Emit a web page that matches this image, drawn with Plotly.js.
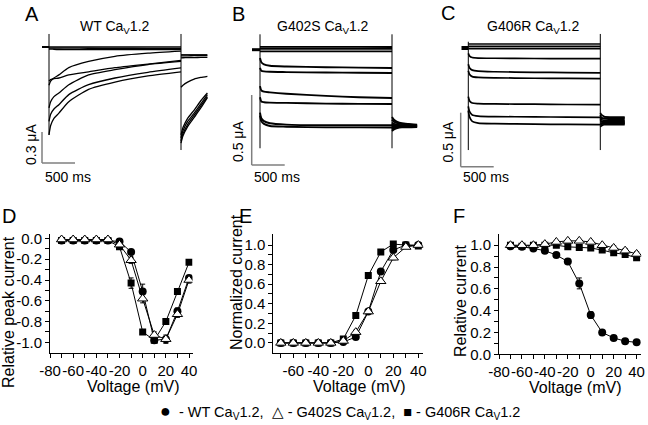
<!DOCTYPE html>
<html><head><meta charset="utf-8">
<script src="https://cdn.plot.ly/plotly-3.0.1.min.js"></script>
<style>html,body{margin:0;padding:0;background:#fff}#chart{width:648px;height:425px}</style>
</head><body><div id="chart"></div>
<script>
// ================= DATA =================
// Bottom panels: test voltages (mV)
const voltages = [-70,-60,-50,-40,-30,-20,-10,0,10,20,30,40];
const seriesNames = ['WT Ca<sub>V</sub>1.2','G402S Ca<sub>V</sub>1.2','G406R Ca<sub>V</sub>1.2'];
// D: relative peak current
const ivWT    = [-0.02,-0.02,-0.02,-0.02,-0.02,-0.03,-0.13,-0.51,-0.98,-0.97,-0.70,-0.38];
const ivG402S = [-0.01,-0.01,-0.01,-0.01,-0.01,-0.06,-0.21,-0.58,-0.93,-0.97,-0.73,-0.40];
const ivG406R = [-0.02,-0.02,-0.02,-0.02,-0.02,-0.08,-0.43,-0.90,-0.98,-0.80,-0.51,-0.23];
const ivWTErr    = [0.01,0.01,0.01,0.01,0.01,0.01,0.02,0.07,0.02,0.02,0.03,0.02];
const ivG402SErr = [0.01,0.01,0.01,0.01,0.01,0.02,0.03,0.04,0.03,0.04,0.03,0.03];
const ivG406RErr = [0.01,0.01,0.01,0.01,0.01,0.01,0.05,0.02,0.02,0.02,0.02,0.02];
// E: normalized current (activation)
const actWT    = [0,0,0,0,0,0.01,0.06,0.32,0.73,0.95,1.00,1.00];
const actG402S = [0,0,0,0,0,0.02,0.11,0.32,0.63,0.87,0.98,1.00];
const actG406R = [0,0,0,0,0,0.04,0.28,0.69,0.93,1.01,1.00,0.99];
const actErr   = [0.005,0.005,0.005,0.005,0.005,0.01,0.02,0.02,0.02,0.02,0.01,0.01];
// F: relative current (inactivation)
const inactWT    = [0.99,0.985,0.97,0.95,0.91,0.85,0.65,0.36,0.20,0.15,0.12,0.11];
const inactG402S = [1.00,1.00,1.00,1.01,1.03,1.04,1.04,1.03,1.00,0.975,0.95,0.92];
const inactG406R = [1.00,0.99,1.00,1.00,1.00,0.985,0.98,0.975,0.955,0.93,0.915,0.885];
const inactWTErr    = [0.01,0.01,0.01,0.01,0.01,0.01,0.05,0.03,0.01,0.01,0.01,0.01];
const inactG402SErr = [0.01,0.01,0.01,0.01,0.01,0.01,0.01,0.01,0.01,0.02,0.02,0.02];
const inactG406RErr = [0.01,0.01,0.01,0.01,0.01,0.01,0.01,0.01,0.01,0.01,0.01,0.01];

// Tick labels (major, labelled) and minor tick positions
const xTicksDF = [-80,-60,-40,-20,0,20,40];
const xTextDF  = ['-80','-60','-40','-20','0','20','40'];
const xMinorDF = [-70,-50,-30,-10,10,30];
const xTicksE  = [-60,-40,-20,0,20,40];
const xTextE   = ['-60','-40','-20','0','20','40'];
const xMinorE  = [-70,-50,-30,-10,10,30];
const yTicksD  = [0,-0.2,-0.4,-0.6,-0.8,-1.0];
const yTextD   = ['0.0','-0.2','-0.4','-0.6','-0.8','-1.0'];
const yMinorD  = [-0.1,-0.3,-0.5,-0.7,-0.9];
const yTicksEF = [0,0.2,0.4,0.6,0.8,1.0];
const yTextEF  = ['0.0','0.2','0.4','0.6','0.8','1.0'];
const yMinorEF = [0.1,0.3,0.5,0.7,0.9];

// Top panels: current traces (uA) vs time (ms)
const holdStartA = -106, holdStartB = -121, holdStartC = -103;
const tPulseA = [0,25,75,150,300,600,1000,1500,2000];
const sweepsA = [
  [0,0,0,0,0,0,0,0,0],
  [-0.01,-0.01,-0.01,-0.01,-0.01,-0.012,-0.014,-0.015,-0.016],
  [-0.02,-0.02,-0.022,-0.024,-0.025,-0.026,-0.026,-0.026,-0.026],
  [-0.37,-0.33,-0.30,-0.27,-0.20,-0.14,-0.09,-0.06,-0.04],
  [-0.33,-0.315,-0.305,-0.30,-0.27,-0.24,-0.20,-0.165,-0.13],
  [-0.59,-0.53,-0.48,-0.445,-0.365,-0.27,-0.22,-0.17,-0.14],
  [-0.72,-0.65,-0.60,-0.558,-0.461,-0.365,-0.30,-0.245,-0.203],
  [-0.85,-0.76,-0.69,-0.64,-0.53,-0.41,-0.34,-0.28,-0.24]
];
const tTailA = [2000,2030,2100,2200,2300,2400];
const tailsA = [
  [-0.075,-0.075,-0.075,-0.075,-0.075,-0.075],
  [-0.085,-0.085,-0.085,-0.084,-0.083,-0.083],
  [-0.105,-0.104,-0.103,-0.102,-0.101,-0.10],
  [-0.39,-0.37,-0.34,-0.31,-0.295,-0.284],
  [-0.85,-0.78,-0.69,-0.61,-0.52,-0.445],
  [-0.88,-0.81,-0.72,-0.64,-0.55,-0.46],
  [-0.91,-0.84,-0.75,-0.66,-0.57,-0.48],
  [-0.93,-0.86,-0.77,-0.68,-0.59,-0.49]
];
const transOnA = [0.126,-0.852], transOffA = [0.126,-0.997];

const tPulseB = [0,20,60,150,400,1000,1500,2000];
const sweepsB = [
  [0.02,0.02,0.02,0.02,0.02,0.02,0.02,0.019],
  [0.007,0.007,0.007,0.007,0.007,0.007,0.007,0.007],
  [-0.012,-0.012,-0.012,-0.012,-0.012,-0.012,-0.012,-0.012],
  [-0.06,-0.09,-0.105,-0.115,-0.12,-0.125,-0.128,-0.131],
  [-0.13,-0.15,-0.155,-0.158,-0.16,-0.163,-0.165,-0.166],
  [-0.26,-0.29,-0.30,-0.305,-0.315,-0.33,-0.34,-0.345],
  [-0.34,-0.37,-0.375,-0.378,-0.38,-0.385,-0.387,-0.388],
  [-0.45,-0.49,-0.51,-0.525,-0.535,-0.54,-0.54,-0.54],
  [-0.47,-0.51,-0.53,-0.545,-0.55,-0.555,-0.555,-0.556]
];
const tTailB = [2000,2030,2080,2150,2250,2380];
const tailsB = [
  [-0.48,-0.50,-0.515,-0.525,-0.53,-0.535],
  [-0.50,-0.515,-0.525,-0.53,-0.535,-0.54],
  [-0.52,-0.53,-0.535,-0.54,-0.54,-0.545],
  [-0.54,-0.545,-0.545,-0.545,-0.545,-0.545],
  [-0.56,-0.555,-0.55,-0.55,-0.55,-0.55],
  [-0.58,-0.57,-0.56,-0.555,-0.555,-0.553],
  [-0.53,-0.54,-0.54,-0.54,-0.54,-0.54],
  [-0.57,-0.56,-0.555,-0.55,-0.548,-0.548],
  [-0.55,-0.55,-0.55,-0.55,-0.55,-0.55]
];
const transOnB = [0.110,-0.704], transOffB = [0.110,-0.704];

const tPulseC = [0,20,60,150,400,1000,1500,2000];
const sweepsC = [
  [0.037,0.037,0.037,0.037,0.037,0.037,0.037,0.037],
  [0.015,0.015,0.015,0.015,0.015,0.015,0.015,0.015],
  [-0.005,-0.005,-0.005,-0.005,-0.005,-0.005,-0.005,-0.005],
  [-0.05,-0.075,-0.088,-0.093,-0.095,-0.097,-0.098,-0.099],
  [-0.15,-0.185,-0.205,-0.215,-0.22,-0.225,-0.228,-0.231],
  [-0.21,-0.245,-0.265,-0.272,-0.276,-0.28,-0.282,-0.284],
  [-0.45,-0.49,-0.51,-0.515,-0.518,-0.52,-0.523,-0.525],
  [-0.54,-0.59,-0.62,-0.63,-0.635,-0.638,-0.64,-0.642],
  [-0.58,-0.64,-0.68,-0.695,-0.70,-0.705,-0.708,-0.71]
];
const tTailC = [2000,2020,2060,2150,2250,2370];
const tailsC = [
  [-0.60,-0.62,-0.635,-0.64,-0.64,-0.64],
  [-0.62,-0.645,-0.655,-0.66,-0.66,-0.66],
  [-0.65,-0.665,-0.67,-0.675,-0.675,-0.675],
  [-0.68,-0.685,-0.69,-0.69,-0.69,-0.69],
  [-0.71,-0.705,-0.70,-0.70,-0.70,-0.70],
  [-0.73,-0.72,-0.71,-0.71,-0.71,-0.71],
  [-0.66,-0.68,-0.68,-0.68,-0.68,-0.68],
  [-0.70,-0.695,-0.695,-0.695,-0.695,-0.695],
  [-0.64,-0.65,-0.65,-0.65,-0.65,-0.65]
];
const transOnC = [0.058,-0.945], transOffC = [0.130,-0.945];

// scale bars
const scaleMs = 500;
const scaleA_uA = 0.3, scaleB_uA = 0.5, scaleC_uA = 0.5;

// ================= LAYOUT HELPERS =================
const W = 648, H = 425;
const FONT = 'Liberation Sans, Arial, Helvetica, sans-serif';
const fx = p => p / W, fy = p => 1 - p / H;

const geo = {
  A: {box:[38,212,28,170], onset:49,    base:47,   ms:500/33, uA:0.3/31},
  B: {box:[245,420,28,170], onset:260,  base:49.7, ms:500/33, uA:0.5/70},
  C: {box:[455,630,28,170], onset:468.3,base:48,   ms:500/33, uA:0.5/54}
};
function topAxes(g) {
  const [x1,x2,yt,yb] = g.box;
  return {
    x: {domain:[fx(x1), fx(x2)], range:[(x1-g.onset)*g.ms, (x2-g.onset)*g.ms], visible:false, fixedrange:true},
    y: {domain:[fy(yb), fy(yt)], range:[-(yb-g.base)*g.uA, (g.base-yt)*g.uA], visible:false, fixedrange:true}
  };
}
const toT = (g,px) => (px - g.onset) * g.ms;
const toI = (g,py) => -(py - g.base) * g.uA;

const traces = [];
function addTop(n, holdStart, tP, sweeps, tT, tails, tOn, tOff, width, holdWidth) {
  const xa = n === 1 ? 'x' : 'x'+n, ya = n === 1 ? 'y' : 'y'+n;
  const ln = {color:'#000', width:width, shape:'spline', smoothing:0.6};
  traces.push({x:[holdStart,0], y:[0,0], xaxis:xa, yaxis:ya, mode:'lines', line:{color:'#000', width:holdWidth}, hoverinfo:'skip', showlegend:false});
  sweeps.forEach(s => traces.push({x:tP, y:s, xaxis:xa, yaxis:ya, mode:'lines', line:ln, hoverinfo:'skip', showlegend:false}));
  tails.forEach(s => traces.push({x:tT, y:s, xaxis:xa, yaxis:ya, mode:'lines', line:ln, hoverinfo:'skip', showlegend:false}));
  traces.push({x:[0,0], y:tOn, xaxis:xa, yaxis:ya, mode:'lines', line:{color:'#000', width:1}, hoverinfo:'skip', showlegend:false});
  const tEnd = tP[tP.length-1];
  traces.push({x:[tEnd,tEnd], y:tOff, xaxis:xa, yaxis:ya, mode:'lines', line:{color:'#000', width:1}, hoverinfo:'skip', showlegend:false});
}
addTop(1, holdStartA, tPulseA, sweepsA, tTailA, tailsA, transOnA, transOffA, 1.3, 2);
addTop(2, holdStartB, tPulseB, sweepsB, tTailB, tailsB, transOnB, transOffB, 1.9, 3);
addTop(3, holdStartC, tPulseC, sweepsC, tTailC, tailsC, transOnC, transOffC, 1.7, 4);

function addSeries(n, y, err, symbol) {
  const xa = 'x'+n, ya = 'y'+n;
  const mk = symbol === 'tri'
    ? {symbol:'triangle-up', size:9, color:'#fff', line:{color:'#000', width:1}}
    : symbol === 'sq'
      ? {symbol:'square', size:7, color:'#000', line:{color:'#000', width:0}}
      : {symbol:'circle', size:8, color:'#000', line:{color:'#000', width:0}};
  traces.push({x:voltages, y:y, xaxis:xa, yaxis:ya, mode:'lines+markers',
    line:{color:'#000', width:1}, marker:mk,
    error_y:{type:'data', array:err, color:'#000', thickness:1, width:2.5},
    hoverinfo:'skip', showlegend:false});
}
addSeries(4, ivG406R, ivG406RErr, 'sq');
addSeries(4, ivWT, ivWTErr, 'circ');
addSeries(4, ivG402S, ivG402SErr, 'tri');
addSeries(5, actG406R, actErr, 'sq');
addSeries(5, actWT, actErr, 'circ');
addSeries(5, actG402S, actErr, 'tri');
addSeries(6, inactG406R, inactG406RErr, 'sq');
addSeries(6, inactWT, inactWTErr, 'circ');
addSeries(6, inactG402S, inactG402SErr, 'tri');

function botAxis(pxA, pxB, range, tv, tt, minorVals, anchor, isY) {
  return {domain: isY ? [fy(pxB), fy(pxA)] : [fx(pxA), fx(pxB)], range, anchor,
    tickmode:'array', tickvals:tv, ticktext:tt, tickangle:0, ticks:'outside', ticklen:4, tickwidth:1, tickcolor:'#000',
    minor:{tickmode:'array', tickvals:minorVals, ticks:'outside', ticklen:4, tickwidth:1, tickcolor:'#000', showgrid:false},
    showline:true, linecolor:'#000', linewidth:1, showgrid:false, zeroline:false,
    tickfont:{family:FONT, size:15, color:'#000'}, fixedrange:true};
}

const ta = topAxes(geo.A), tb = topAxes(geo.B), tc = topAxes(geo.C);
const layout = {
  width:W, height:H, margin:{l:0,r:0,t:0,b:0}, paper_bgcolor:'#fff', plot_bgcolor:'rgba(0,0,0,0)',
  font:{family:FONT, color:'#000'}, showlegend:false,
  xaxis: Object.assign(ta.x, {anchor:'y'}), yaxis: Object.assign(ta.y, {anchor:'x'}),
  xaxis2: Object.assign(tb.x, {anchor:'y2'}), yaxis2: Object.assign(tb.y, {anchor:'x2'}),
  xaxis3: Object.assign(tc.x, {anchor:'y3'}), yaxis3: Object.assign(tc.y, {anchor:'x3'}),
  xaxis4: botAxis(50, 192.5, [-80, 43], xTicksDF, xTextDF, xMinorDF, 'y4', false),
  yaxis4: botAxis(234.3, 352.7, [-1.1, 0.04], yTicksD, yTextD, yMinorD, 'x4', true),
  xaxis5: botAxis(273.3, 423.3, [-76, 44], xTicksE, xTextE, xMinorE, 'y5', false),
  yaxis5: botAxis(234.3, 352.7, [-0.1, 1.11], yTicksEF, yTextEF, yMinorEF, 'x5', true),
  xaxis6: botAxis(499, 641.2, [-80, 44], xTicksDF, xTextDF, xMinorDF, 'y6', false),
  yaxis6: botAxis(234.3, 354.3, [0, 1.1], yTicksEF, yTextEF, yMinorEF, 'x6', true),
  shapes: [], annotations: []
};

function scaleBar(g, n, cornerPx, uA) {
  const xr = n === 1 ? 'x' : 'x'+n, yr = n === 1 ? 'y' : 'y'+n;
  const t0 = toT(g, cornerPx[0]), i0 = toI(g, cornerPx[1]);
  const st = {color:'#7f7f7f', width:1.5};
  layout.shapes.push({type:'line', xref:xr, yref:yr, x0:t0, x1:t0, y0:i0, y1:i0+uA, line:st});
  layout.shapes.push({type:'line', xref:xr, yref:yr, x0:t0, x1:t0+scaleMs, y0:i0, y1:i0, line:st});
}
scaleBar(geo.A, 1, [42,163], scaleA_uA);
scaleBar(geo.B, 2, [251.7,165], scaleB_uA);
scaleBar(geo.C, 3, [460.7,166.7], scaleC_uA);

function ann(text, px, py, size, angle) {
  layout.annotations.push({text, x:fx(px), y:fy(py), xref:'paper', yref:'paper', xanchor:'center', yanchor:'middle',
    showarrow:false, textangle:angle||0, font:{family:FONT, size, color:'#000'}});
}
ann('A', 31.5, 14, 20); ann('B', 238.5, 14, 20); ann('C', 447.5, 13, 20);
ann('D', 8.5, 216, 20); ann('E', 245, 216, 20); ann('F', 459, 216, 20);
ann('WT Ca<sub>V</sub>1.2', 115, 27, 14);
ann('G402S Ca<sub>V</sub>1.2', 323, 27, 14);
ann('G406R Ca<sub>V</sub>1.2', 533, 27, 14);
ann(scaleA_uA + ' μA', 31, 145, 14, -90); ann(scaleMs + ' ms', 68, 177, 14);
ann(scaleB_uA + ' μA', 238, 142, 14, -90); ann(scaleMs + ' ms', 277, 177, 14);
ann(scaleC_uA + ' μA', 447.5, 142, 14, -90); ann(scaleMs + ' ms', 486, 177, 14);
ann('Relative peak current', 8, 312, 16, -90);
ann('Normalized current', 236, 282, 16, -90);
ann('Relative current', 460, 301, 16, -90);
ann('Voltage (mV)', 132.5, 386, 16);
ann('Voltage (mV)', 358.5, 386, 16);
ann('Voltage (mV)', 575, 387, 16);
ann('<span style="font-size:18px">●</span>  - ' + seriesNames[0] + ',  △ - ' + seriesNames[1] + ',  ■ - ' + seriesNames[2], 340, 411, 14.5);

const chartDiv = document.getElementById('chart');
function dropEmptyTexts() {
  chartDiv.querySelectorAll('text').forEach(t => { if (!t.textContent.trim()) t.remove(); });
}
new MutationObserver(dropEmptyTexts).observe(chartDiv, {childList:true, subtree:true});
Plotly.newPlot(chartDiv, traces, layout, {staticPlot:true, displayModeBar:false}).then(() => {
  dropEmptyTexts();
  setTimeout(dropEmptyTexts, 0);
  setTimeout(dropEmptyTexts, 200);
});
</script>
</body></html>
